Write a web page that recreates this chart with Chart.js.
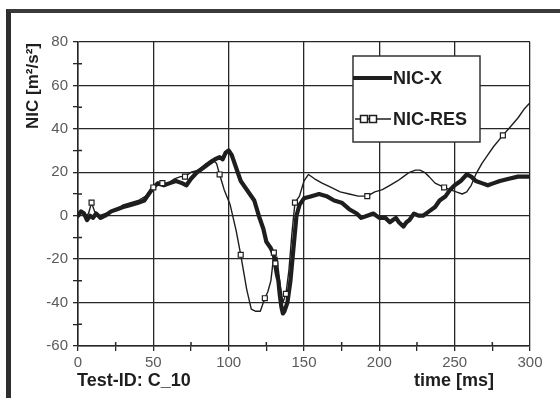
<!DOCTYPE html>
<html>
<head>
<meta charset="utf-8">
<script src="https://cdn.jsdelivr.net/npm/chart.js@4"></script>
<style>
  html, body { margin: 0; padding: 0; background: #fff; }
  #wrap { position: relative; width: 560px; height: 398px; overflow: hidden; }
  #frame {
    position: absolute; left: 6px; top: 9px; width: 600px; height: 420px;
    border-top: 4px solid #3a3a3a; border-left: 5px solid #2e2e2e;
  }
  canvas { position: absolute; left: 0; top: 0; }
</style>
</head>
<body>
<div id="wrap">
  <div id="frame"></div>
  <canvas id="c" width="560" height="398"></canvas>
</div>
<script>
// ─── Data ────────────────────────────────────────────────────────────────────

const timeX = [0, 2, 4, 6, 8, 10, 12, 15, 18, 22, 26, 30, 35, 40, 44, 47, 50, 53, 57, 61,
  65, 69, 72, 75, 79, 83, 87, 91, 94, 96, 98, 100, 102, 105, 108, 111, 114, 117, 120, 123,
  125, 128, 130, 131, 132, 133, 134, 135, 136, 137, 139, 141, 143, 145, 147, 150, 155, 160,
  165, 170, 175, 180, 185, 188, 192, 196, 200, 204, 207, 209, 211, 213, 216, 218, 220, 223,
  226, 229, 233, 237, 240, 244, 247, 250, 254, 258, 261, 264, 268, 272, 276, 280, 286, 292, 300];
const nicX = [0, 2, 1, -2, 0, -1, 1, -1, 0, 2, 3, 4, 5, 6, 7, 10, 13, 15, 14, 15,
  16, 15, 14, 17, 20, 22, 24, 26, 27, 26, 29, 30, 28, 22, 16, 13, 10, 7, 0, -6,
  -12, -15, -18, -23, -27, -30, -37, -42, -45, -44, -40, -30, -15, 0, 5, 8, 9, 10,
  9, 7, 6, 3, 1, -1, 0, 1, -1, -1, -3, -2, -1, -3, -5, -3, -2, 1,
  0, 0, 2, 4, 7, 9, 12, 14, 16, 19, 18, 16, 15, 14, 15, 16, 17, 18, 18];

const timeRes = [0, 3, 5, 7, 9, 11, 14, 18, 22, 26, 30, 35, 40, 45, 48, 50, 53, 56, 60, 64,
  68, 71, 75, 80, 85, 89, 92, 94, 97, 101, 105, 108, 112, 115, 118, 121, 124, 126, 128, 129,
  130, 131, 132, 133, 134, 136, 138, 140, 142, 144, 147, 150, 153, 157, 162, 168, 174, 180,
  186, 192, 197, 202, 207, 212, 216, 220, 224, 227, 230, 233, 237, 243, 247, 251, 255, 258,
  261, 264, 268, 272, 276, 282, 287, 292, 296, 300];
const nicRes = [0, 2, 0, 1, 6, 2, 0, 1, 2, 3, 5, 6, 7, 9, 12, 13, 15, 15, 15, 17,
  18, 18, 20, 21, 24, 26, 24, 19, 12, 5, -7, -18, -34, -43, -44, -44, -38, -35, -30, -24,
  -17, -22, -19, -25, -31, -40, -36, -25, -8, 6, 9, 16, 19, 17, 15, 13, 11, 10,
  9, 9, 11, 12, 14, 16, 18, 20, 21, 21, 20, 18, 15, 13, 12, 11, 10, 11,
  14, 19, 24, 28, 32, 37, 41, 45, 49, 52];
// sample times that carry a square marker
const resMarkers = [9, 50, 56, 71, 94, 108, 124, 130, 131, 138, 144, 192, 243, 282];

const seriesNames = ['NIC-X', 'NIC-RES'];
const xTitle = 'time [ms]';
const yTitle = 'NIC [m²/s²]';
const testId = 'Test-ID: C_10';

// ─── Styling ─────────────────────────────────────────────────────────────────

const INK = '#1e1e1e';
const GRID = '#262626';
const TICK_TEXT = '#5a5a5a';
const FONT = "'Liberation Sans', Arial, sans-serif";

const toPoints = (xs, ys) => xs.map((x, i) => ({ x, y: ys[i] }));

// minor ticks cross the axis line in the original, add the inner half
const innerTicks = {
  id: 'innerTicks',
  afterDatasetsDraw(chart) {
    const { ctx, chartArea: a, scales: { x, y } } = chart;
    ctx.save();
    ctx.strokeStyle = GRID;
    ctx.lineWidth = 1.5;
    ctx.beginPath();
    x.ticks.forEach(t => {
      if (t.value % 50 === 0) return;
      const px = x.getPixelForValue(t.value);
      ctx.moveTo(px, a.bottom); ctx.lineTo(px, a.bottom - 4);
    });
    y.ticks.forEach(t => {
      if (t.value % 20 === 0) return;
      const py = y.getPixelForValue(t.value);
      ctx.moveTo(a.left, py); ctx.lineTo(a.left + 4, py);
    });
    ctx.stroke();
    ctx.restore();
  },
};

// titles + boxed legend, drawn like the Excel original
const decorations = {
  id: 'decorations',
  afterDraw(chart) {
    const { ctx, chartArea: a } = chart;
    ctx.save();
    ctx.fillStyle = INK;
    ctx.textBaseline = 'middle';
    ctx.font = `bold 18px ${FONT}`;
    ctx.textAlign = 'left';
    ctx.fillText(testId, a.left - 1, 381);
    ctx.textAlign = 'right';
    ctx.fillText(xTitle, a.right - 36, 381);

    ctx.save();
    ctx.translate(33, a.top + 1);
    ctx.rotate(-Math.PI / 2);
    ctx.font = `bold 17px ${FONT}`;
    ctx.textAlign = 'right';
    ctx.fillText(yTitle, 0, 0);
    ctx.restore();

    // legend box
    const bx = 353, by = 56, bw = 127, bh = 86;
    ctx.fillStyle = '#fff';
    ctx.fillRect(bx, by, bw, bh);
    ctx.strokeStyle = '#333';
    ctx.lineWidth = 1.5;
    ctx.strokeRect(bx, by, bw, bh);

    ctx.strokeStyle = INK;
    ctx.lineWidth = 4;
    ctx.beginPath(); ctx.moveTo(bx, 78); ctx.lineTo(bx + 39, 78); ctx.stroke();
    ctx.lineWidth = 1.5;
    ctx.beginPath(); ctx.moveTo(bx + 2, 119); ctx.lineTo(bx + 38, 119); ctx.stroke();
    ctx.fillStyle = '#fff';
    [bx + 11, bx + 20].forEach(cx => {
      ctx.fillRect(cx - 3.5, 115.5, 7, 7);
      ctx.strokeRect(cx - 3.5, 115.5, 7, 7);
    });

    ctx.fillStyle = INK;
    ctx.font = `bold 18px ${FONT}`;
    ctx.textAlign = 'left';
    ctx.fillText(seriesNames[0], bx + 40, 79);
    ctx.fillText(seriesNames[1], bx + 40, 120);
    ctx.restore();
  },
};

new Chart(document.getElementById('c'), {
  type: 'line',
  data: {
    datasets: [
      {
        label: seriesNames[0],
        data: toPoints(timeX, nicX),
        borderColor: INK,
        borderWidth: 4.2,
        borderJoinStyle: 'round',
        borderCapStyle: 'round',
        pointRadius: 0,
        tension: 0,
        order: 1,
      },
      {
        label: seriesNames[1],
        data: toPoints(timeRes, nicRes),
        borderColor: INK,
        borderWidth: 1.4,
        borderJoinStyle: 'round',
        pointStyle: 'rect',
        pointRadius: ctx => resMarkers.includes(ctx.raw && ctx.raw.x) ? 3.5 : 0,
        pointBackgroundColor: '#fff',
        pointBorderColor: INK,
        pointBorderWidth: 1.2,
        tension: 0,
        order: 0,
      },
    ],
  },
  options: {
    responsive: false,
    animation: false,
    events: [],
    layout: { padding: { left: 0, top: 42, right: 30, bottom: 0 } },
    plugins: { legend: { display: false }, tooltip: { enabled: false } },
    scales: {
      x: {
        type: 'linear',
        min: 0, max: 300,
        afterFit: s => { s.height = 52; },
        border: { color: GRID, width: 1.5 },
        grid: {
          color: c => (c.tick && c.tick.value % 50 === 0) ? GRID : 'transparent',
          lineWidth: 1.3,
          tickColor: GRID,
          tickLength: 5,
        },
        ticks: {
          stepSize: 25,
          autoSkip: false,
          maxRotation: 0,
          padding: 3,
          color: TICK_TEXT,
          font: { family: FONT, size: 15 },
          callback: v => v % 50 === 0 ? v : '',
        },
      },
      y: {
        min: -60, max: 80,
        afterFit: s => { s.width = 78; },
        border: { color: GRID, width: 1.5 },
        grid: {
          color: c => (c.tick && c.tick.value % 20 === 0) ? GRID : 'transparent',
          lineWidth: 1.3,
          tickColor: GRID,
          tickLength: 5,
        },
        ticks: {
          stepSize: 10,
          autoSkip: false,
          padding: 5,
          color: TICK_TEXT,
          font: { family: FONT, size: 15 },
          callback: v => v % 20 === 0 ? v : '',
        },
      },
    },
  },
  plugins: [innerTicks, decorations],
});
</script>
</body>
</html>
